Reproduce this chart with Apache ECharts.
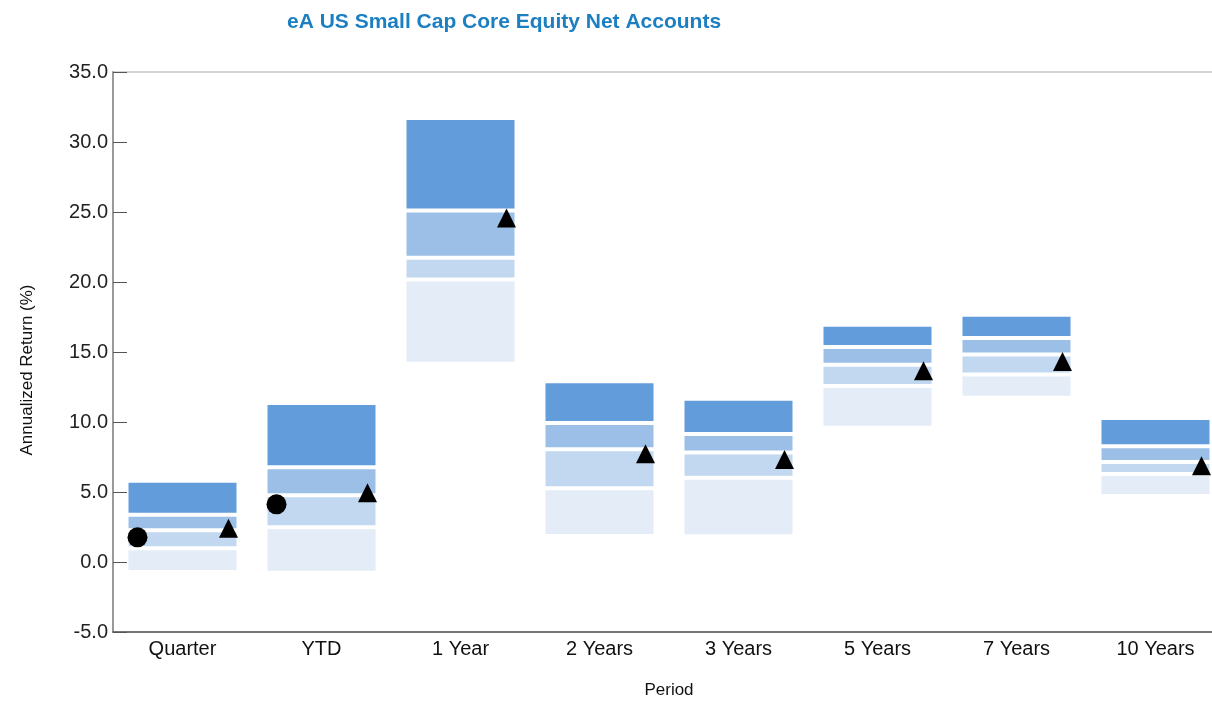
<!DOCTYPE html>
<html>
<head>
<meta charset="utf-8">
<title>eA US Small Cap Core Equity Net Accounts</title>
<script src="https://cdn.jsdelivr.net/npm/echarts@6/dist/echarts.min.js"></script>
<style>
  html, body { margin: 0; padding: 0; background: #fff; overflow: hidden; }
  #chart { width: 1212px; height: 703px; }
</style>
</head>
<body>
<div id="chart"></div>
<script>
// Periods along the x axis
const categories = ['Quarter', 'YTD', '1 Year', '2 Years', '3 Years', '5 Years', '7 Years', '10 Years'];

// Universe percentile breakpoints (annualized return, %)
const p5  = [5.66, 11.21, 31.57, 12.76, 11.52, 16.81, 17.52, 10.14];
const p25 = [3.38,  6.76, 25.11,  9.93,  9.14, 15.36, 16.00,  8.27];
const p50 = [2.27,  4.76, 21.73,  8.05,  7.83, 14.09, 14.82,  7.14];
const p75 = [0.98,  2.49, 20.18,  5.26,  6.02, 12.57, 13.39,  6.29];
const p95 = [-0.57, -0.62, 14.31, 2.00,  1.98,  9.74, 11.88,  4.86];

// Portfolio (circle) and index (triangle) returns
const portfolio = [1.76, 4.12, null, null, null, null, null, null];
const benchmark = [2.41, 4.94, 24.57, 7.74, 7.32, 13.66, 14.33, 6.88];

// Y axis ticks
const yTicks = { min: -5, max: 35, step: 5 };

const bandColors = ['#629cdb', '#9bbfe7', '#c2d7f0', '#e4ecf7'];
const FONT = '"Liberation Sans", Arial, sans-serif';

// One record per floating band: [category, low, high, band]
const bandData = [];
categories.forEach((c, i) => {
  const edges = [p5[i], p25[i], p50[i], p75[i], p95[i]];
  for (let b = 0; b < 4; b++) {
    bandData.push([i, edges[b + 1], edges[b], b]);
  }
});

const chart = echarts.init(document.getElementById('chart'));

chart.setOption({
  animation: false,
  backgroundColor: '#fff',
  title: {
    text: 'eA US Small Cap Core Equity Net Accounts',
    left: 282,
    top: 7,
    textStyle: { fontFamily: FONT, fontSize: 21, fontWeight: 'bold', color: '#1b7fc1' }
  },
  // plot area runs slightly past the right edge of the canvas
  grid: {
    left: 113, top: 72, width: 1112, height: 560,
    outerBoundsMode: 'none',
    containLabel: false,
    show: true, borderColor: '#aaa', borderWidth: 1
  },
  xAxis: {
    type: 'category',
    data: categories,
    boundaryGap: true,
    axisLine: { onZero: false, lineStyle: { color: '#555', width: 1.5 } },
    axisTick: { show: false },
    axisLabel: { fontFamily: FONT, fontSize: 20, color: '#111', margin: 7 },
    name: 'Period',
    nameLocation: 'middle',
    nameGap: 50,
    nameTextStyle: { fontFamily: FONT, fontSize: 17, color: '#111' },
    splitLine: { show: false }
  },
  yAxis: {
    type: 'value',
    min: yTicks.min, max: yTicks.max, interval: yTicks.step,
    axisLine: { show: true, lineStyle: { color: '#999', width: 2 } },
    axisTick: { show: true, inside: true, length: 14, lineStyle: { color: '#555', width: 1 } },
    axisLabel: {
      fontFamily: FONT, fontSize: 20, color: '#222', margin: 5,
      formatter: v => v.toFixed(1)
    },
    splitLine: { show: false },
    name: 'Annualized Return (%)',
    nameLocation: 'middle',
    nameRotate: 90,
    nameGap: 77,
    nameTextStyle: { fontFamily: FONT, fontSize: 17, color: '#111', padding: [0, 36, 0, 0] }
  },
  series: [
    {
      type: 'custom',
      name: 'Universe',
      data: bandData,
      encode: { x: 0, y: [1, 2] },
      renderItem: function (params, api) {
        const idx = api.value(0);
        const lo = api.value(1);
        const hi = api.value(2);
        const band = api.value(3);
        const top = api.coord([idx, hi]);
        const bot = api.coord([idx, lo]);
        const w = api.size([1, 0])[0] * 0.777;
        const gap = 2;
        const y0 = top[1] + (band > 0 ? gap : 0);
        const y1 = bot[1] - (band < 3 ? gap : 0);
        return {
          type: 'rect',
          shape: { x: top[0] - w / 2, y: y0, width: w, height: Math.max(0, y1 - y0) },
          style: { fill: bandColors[band] }
        };
      },
      z: 2
    },
    {
      type: 'scatter',
      name: 'Index',
      data: benchmark,
      symbol: 'triangle',
      symbolSize: [19, 19],
      symbolOffset: [46, 0],
      itemStyle: { color: '#000', opacity: 1 },
      z: 5
    },
    {
      type: 'scatter',
      name: 'Portfolio',
      data: portfolio,
      symbol: 'circle',
      symbolSize: 20,
      symbolOffset: [-45, 0],
      itemStyle: { color: '#000', opacity: 1 },
      z: 5
    }
  ]
});
</script>
</body>
</html>
